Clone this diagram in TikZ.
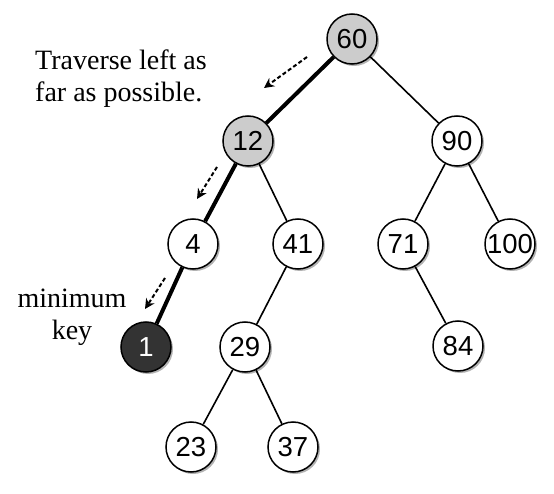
\documentclass[tikz,border=0pt]{standalone}
\usepackage{fontspec}
\setmainfont{Liberation Serif}
\newfontfamily\numfont{Liberation Sans}
\usetikzlibrary{shadows,arrows.meta}
\tikzset{
  bst/.style={circle, draw=black, line width=1.5pt, minimum size=50pt, inner sep=0pt,
    fill=white, font=\numfont\fontsize{27.5}{27.5}\selectfont,
    drop shadow={shadow xshift=2pt, shadow yshift=-2pt, fill=black, opacity=0.3}},
  visited/.style={bst, fill=black!20},
  minnode/.style={bst, fill=black!80, text=white},
  edge/.style={line width=1.6pt},
  path/.style={line width=4pt},
  hint/.style={line width=2pt, dash pattern=on 4pt off 2.5pt, -{Stealth[length=10pt,width=10pt]}},
  note/.style={font=\fontsize{28}{32}\selectfont, align=left, inner sep=0pt}
}
\begin{document}
\begin{tikzpicture}[x=1pt,y=-1pt]
\useasboundingbox (0,0) rectangle (554,494);
\node[visited] (n60) at (352,39) {60};
\node[visited] (n12) at (248,141) {12};
\node[bst] (n90) at (457,141) {90};
\node[bst] (n4) at (193,244) {4};
\node[bst] (n41) at (298,244) {41};
\node[bst] (n71) at (403,244) {71};
\node[bst] (n100) at (510,244) {100};
\node[minnode] (n1) at (146,347) {1};
\node[bst] (n29) at (245,347) {29};
\node[bst] (n84) at (458,346) {84};
\node[bst] (n23) at (191,447) {23};
\node[bst] (n37) at (293,447) {37};

\draw[path] (n60) -- (n12);
\draw[path] (n12) -- (n4);
\draw[path] (n4) -- (n1);
\draw[edge] (n60) -- (n90);
\draw[edge] (n12) -- (n41);
\draw[edge] (n90) -- (n71);
\draw[edge] (n90) -- (n100);
\draw[edge] (n41) -- (n29);
\draw[edge] (n71) -- (n84);
\draw[edge] (n29) -- (n23);
\draw[edge] (n29) -- (n37);

\coordinate (a1s) at (307,57);
\coordinate (a1e) at (264,88);
\coordinate (a2s) at (217,167);
\coordinate (a2e) at (197,199);
\coordinate (a3s) at (165,278);
\coordinate (a3e) at (145,309);
\draw[hint] (a1s) -- (a1e);
\draw[hint] (a2s) -- (a2e);
\draw[hint] (a3s) -- (a3e);

\node[note, anchor=base west] (t1) at (35,102) {Traverse left as\\far as possible.};
\node[note, align=center, anchor=base] (t2) at (72,339) {minimum\\key};
\end{tikzpicture}
\end{document}
